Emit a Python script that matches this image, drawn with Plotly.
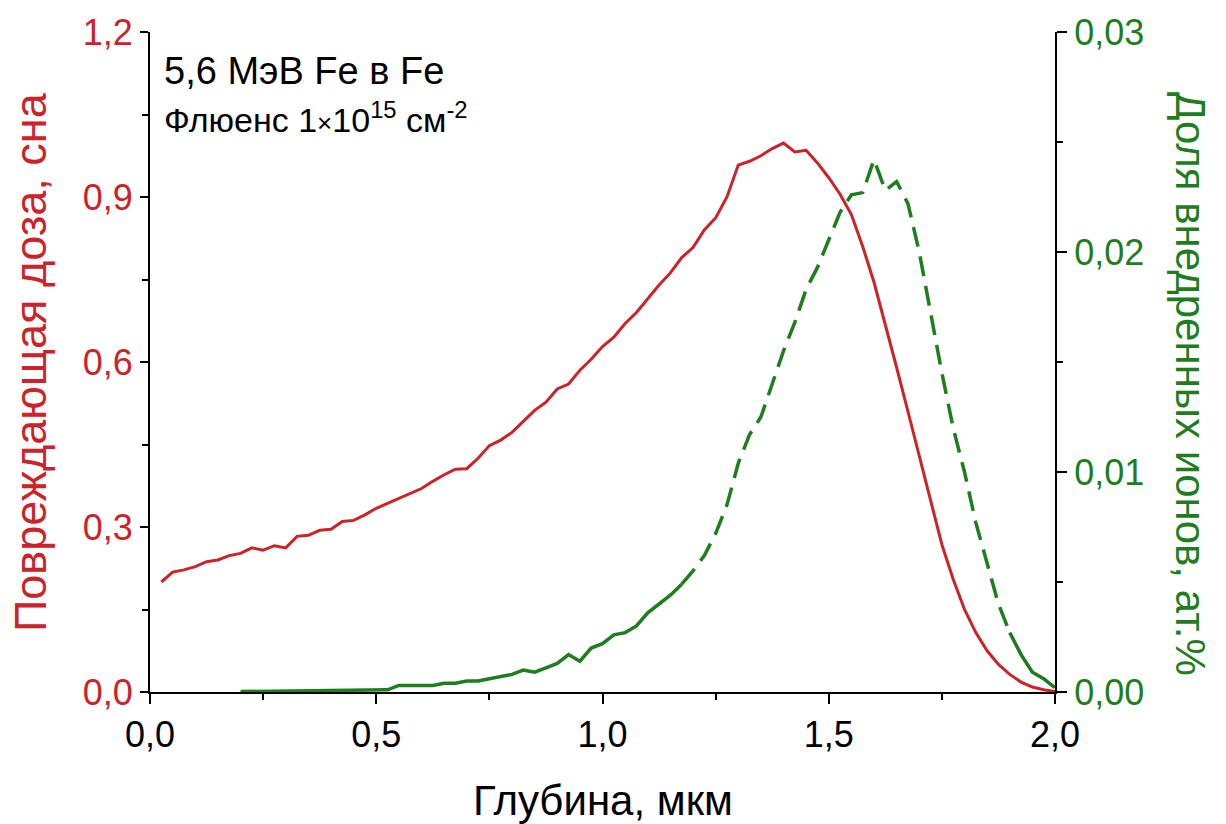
import plotly.graph_objects as go

# ---------------- data ----------------
depth_dose = [0.025, 0.05, 0.075, 0.1, 0.125, 0.15, 0.175, 0.2, 0.225, 0.25, 0.275, 0.3,
              0.325, 0.35, 0.375, 0.4, 0.425, 0.45, 0.475, 0.5, 0.525, 0.55, 0.575, 0.6,
              0.625, 0.65, 0.675, 0.7, 0.725, 0.75, 0.775, 0.8, 0.825, 0.85, 0.875, 0.9,
              0.925, 0.95, 0.975, 1.0, 1.025, 1.05, 1.075, 1.1, 1.125, 1.15, 1.175, 1.2,
              1.225, 1.25, 1.275, 1.3, 1.325, 1.35, 1.375, 1.4, 1.425, 1.45, 1.475, 1.5,
              1.525, 1.55, 1.575, 1.6, 1.625, 1.65, 1.675, 1.7, 1.725, 1.75, 1.775, 1.8,
              1.825, 1.85, 1.875, 1.9, 1.925, 1.95, 1.975, 2.0]
dose_dpa = [0.200, 0.218, 0.222, 0.228, 0.237, 0.240, 0.248, 0.252, 0.262, 0.258, 0.266, 0.262,
            0.283, 0.285, 0.294, 0.296, 0.310, 0.312, 0.322, 0.334, 0.343, 0.352, 0.360, 0.370,
            0.383, 0.395, 0.405, 0.406, 0.425, 0.448, 0.458, 0.472, 0.492, 0.512, 0.527, 0.551,
            0.560, 0.585, 0.605, 0.628, 0.645, 0.670, 0.690, 0.716, 0.740, 0.762, 0.790, 0.808,
            0.840, 0.862, 0.900, 0.958, 0.965, 0.975, 0.988, 0.998, 0.982, 0.985, 0.962, 0.935,
            0.905, 0.868, 0.810, 0.745, 0.670, 0.590, 0.510, 0.430, 0.345, 0.268, 0.205, 0.150,
            0.108, 0.075, 0.050, 0.032, 0.018, 0.009, 0.004, 0.001]

depth_ions = [0.2, 0.25, 0.3, 0.35, 0.4, 0.45, 0.5, 0.525, 0.55, 0.575, 0.6, 0.625, 0.65,
              0.675, 0.7, 0.725, 0.75, 0.775, 0.8, 0.825, 0.85, 0.875, 0.9, 0.925, 0.95,
              0.975, 1.0, 1.025, 1.05, 1.075, 1.1, 1.125, 1.15, 1.175, 1.2, 1.225, 1.25,
              1.275, 1.3, 1.325, 1.35, 1.375, 1.4, 1.425, 1.45, 1.475, 1.5, 1.525, 1.55,
              1.575, 1.6, 1.625, 1.65, 1.675, 1.7, 1.725, 1.75, 1.775, 1.8, 1.825, 1.85,
              1.875, 1.9, 1.925, 1.95, 1.975, 2.0]
ions_at = [0.00002, 0.00003, 0.00004, 0.00005, 0.00006, 0.00008, 0.0001, 0.0001, 0.0003, 0.0003,
           0.0003, 0.0003, 0.0004, 0.0004, 0.0005, 0.0005, 0.0006, 0.0007, 0.0008, 0.0010,
           0.0009, 0.0011, 0.0013, 0.0017, 0.0014, 0.0020, 0.0022, 0.0026, 0.0027, 0.0030,
           0.0036, 0.0040, 0.0044, 0.0049, 0.0055, 0.0062, 0.0072, 0.0085, 0.0104, 0.0117,
           0.0125, 0.0140, 0.0155, 0.0168, 0.0183, 0.0193, 0.0205, 0.0218, 0.0226, 0.0227,
           0.0242, 0.0228, 0.0232, 0.0222, 0.0200, 0.0172, 0.0145, 0.0120, 0.0100, 0.0077,
           0.0058, 0.0040, 0.0027, 0.0017, 0.0009, 0.0006, 0.0002]

x_ticks = [0.0, 0.5, 1.0, 1.5, 2.0]
x_tick_labels = ["0,0", "0,5", "1,0", "1,5", "2,0"]
y1_ticks = [0.0, 0.3, 0.6, 0.9, 1.2]
y1_tick_labels = ["0,0", "0,3", "0,6", "0,9", "1,2"]
y2_ticks = [0.0, 0.01, 0.02, 0.03]
y2_tick_labels = ["0,00", "0,01", "0,02", "0,03"]

RED = "#cc2229"
GREEN = "#1e7d1e"
FONT = "Liberation Sans, Arial, sans-serif"
FS_TICK = 36

# split of the ion curve into solid / dashed / solid parts
i_dash_start = depth_ions.index(1.175)
i_dash_end = depth_ions.index(1.9)

fig = go.Figure()
fig.add_trace(go.Scatter(x=depth_dose, y=dose_dpa, mode="lines",
                         line=dict(color=RED, width=3), yaxis="y", showlegend=False))
fig.add_trace(go.Scatter(x=depth_ions[:i_dash_start + 1], y=ions_at[:i_dash_start + 1],
                         mode="lines", line=dict(color=GREEN, width=3.5), yaxis="y2",
                         showlegend=False))
fig.add_trace(go.Scatter(x=depth_ions[i_dash_start:i_dash_end + 1],
                         y=ions_at[i_dash_start:i_dash_end + 1],
                         mode="lines", line=dict(color=GREEN, width=3.5, dash="20px,10px"),
                         yaxis="y2", showlegend=False))
fig.add_trace(go.Scatter(x=depth_ions[i_dash_end:], y=ions_at[i_dash_end:],
                         mode="lines", line=dict(color=GREEN, width=3.5), yaxis="y2",
                         showlegend=False))

axis_common = dict(showline=True, linecolor="black", linewidth=2, showgrid=False,
                   zeroline=False, tickwidth=2, tickcolor="black")

fig.update_layout(
    width=1226, height=824,
    margin=dict(l=150, r=171, t=30, b=132, pad=0),
    paper_bgcolor="white", plot_bgcolor="white",
    font=dict(family=FONT, size=FS_TICK, color="black"),
    xaxis=dict(range=[0, 2], tickvals=x_ticks, ticktext=x_tick_labels,
               ticks="outside", ticklen=10,
               minor=dict(tickvals=[0.25, 0.75, 1.25, 1.75], ticklen=6, ticks="outside",
                          tickwidth=2, tickcolor="black"),
               tickfont=dict(size=FS_TICK, color="black"),
               **axis_common),
    xaxis2=dict(range=[0, 2], overlaying="x", side="top", anchor="y",
                tickvals=x_ticks, ticks="inside", ticklen=11, showticklabels=False,
                minor=dict(tickvals=[0.25, 0.75, 1.25, 1.75], ticklen=6, ticks="inside",
                           tickwidth=2, tickcolor="black"),
                **axis_common),
    yaxis=dict(range=[0, 1.2], tickvals=y1_ticks, ticktext=y1_tick_labels,
               ticks="outside", ticklen=8,
               minor=dict(tickvals=[0.15, 0.45, 0.75, 1.05], ticklen=6, ticks="outside",
                          tickwidth=2, tickcolor="black"),
               tickfont=dict(size=FS_TICK, color=RED),
               **axis_common),
    yaxis2=dict(range=[0, 0.03], overlaying="y", side="right", anchor="x",
                tickvals=y2_ticks, ticktext=y2_tick_labels,
                ticks="outside", ticklen=10,
                minor=dict(tickvals=[0.005, 0.015, 0.025], ticklen=6, ticks="outside",
                           tickwidth=2, tickcolor="black"),
                tickfont=dict(size=FS_TICK, color=GREEN),
                **axis_common),
)

# axis titles
fig.add_annotation(text="Глубина, мкм", xref="paper", yref="paper",
                   x=0.5, y=0, yshift=-108, xanchor="center", yanchor="middle",
                   showarrow=False, font=dict(size=42, color="black", family=FONT))
fig.add_annotation(text="Повреждающая доза, сна", textangle=-90,
                   xref="paper", yref="paper", x=0, y=0.5, xshift=-120,
                   xanchor="center", yanchor="middle", showarrow=False,
                   font=dict(size=45, color=RED, family=FONT))
fig.add_annotation(text="Доля внедренных ионов, ат.%", textangle=90,
                   xref="paper", yref="paper", x=1.0, y=0.5, xshift=136, yshift=-22,
                   xanchor="center", yanchor="middle", showarrow=False,
                   font=dict(size=42, color=GREEN, family=FONT))

# in-plot label
fig.add_annotation(text="5,6 MэВ Fe в Fe", xref="paper", yref="paper",
                   x=0, y=1, xshift=12, yshift=-16, xanchor="left", yanchor="top",
                   showarrow=False, font=dict(size=38, color="black", family=FONT))
fig.add_annotation(text="Флюенс 1<span style='font-size:26px'>×</span>10<sup>15</sup> см<sup>-2</sup>",
                   xref="paper", yref="paper",
                   x=0, y=1, xshift=12, yshift=-62, xanchor="left", yanchor="top",
                   showarrow=False, font=dict(size=34, color="black", family=FONT))

fig.write_html("out.html")
